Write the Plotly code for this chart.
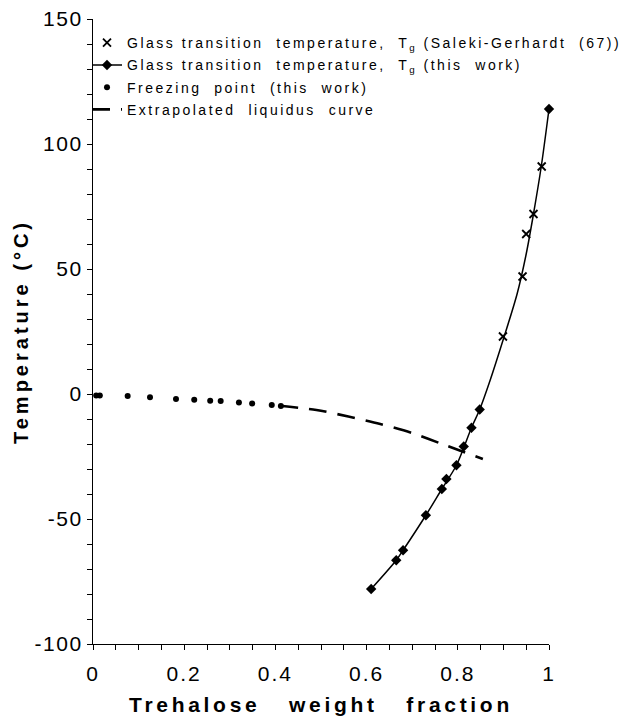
import plotly.graph_objects as go

# ---- data ----
saleki_x = [0.899, 0.942, 0.950, 0.966, 0.984]
saleki_T = [23, 47, 64, 72, 91]

tg_x = [0.61, 0.665, 0.68, 0.73, 0.765, 0.775, 0.797, 0.813, 0.83, 0.848, 1.0]
tg_T = [-78, -66.5, -62.5, -48.5, -38, -34, -28.5, -21, -13.5, -6.2, 114]

# fitted Tg curve as drawn
curve_x = [0.61, 0.665, 0.68, 0.73, 0.765, 0.797, 0.83, 0.848, 0.87, 0.90, 0.93, 0.95, 0.965, 0.983, 1.0]
curve_T = [-78, -66.5, -62.5, -48.5, -38, -28.5, -13.5, -6.2, 5, 22, 40, 56, 71, 91, 114]

fp_x = [0.007, 0.015, 0.076, 0.125, 0.182, 0.222, 0.257, 0.280, 0.320, 0.349, 0.392, 0.412]
fp_T = [-0.6, -0.6, -0.8, -1.3, -2.0, -2.3, -2.7, -2.8, -3.4, -3.8, -4.4, -4.8]

liq_x = [0.41, 0.49, 0.56, 0.63, 0.70, 0.77, 0.855]
liq_T = [-4.7, -6.4, -9.0, -12.0, -15.6, -20.3, -26.0]

x_tickvals = [0, 0.2, 0.4, 0.6, 0.8, 1]
x_ticktext = ["0", "0.2", "0.4", "0.6", "0.8", "1"]
y_tickvals = [-100, -50, 0, 50, 100, 150]
y_ticktext = ["-100", "-50", "0", "50", "100", "150"]

names = [
    "Glass transition  temperature,  T<sub>g</sub> (Saleki-Gerhardt  (67))",
    "Glass transition  temperature,  T<sub>g</sub> (this  work)",
    "Freezing  point  (this  work)",
    "Extrapolated  liquidus  curve",
]
x_title = "Trehalose   weight   fraction"
y_title = "Temperature (°C)"


def spaced(text, px):
    return '<span style="letter-spacing:%spx">%s</span>' % (px, text)


FONT = "Liberation Sans, Arial, Helvetica, sans-serif"
BLACK = "#000000"
LEG_SP = 2.5

fig = go.Figure()

fig.add_trace(go.Scatter(
    x=saleki_x, y=saleki_T, mode="markers", name=spaced(names[0], LEG_SP), legendgroup="a",
    cliponaxis=False,
    marker=dict(symbol="x-thin", size=8, line=dict(width=1.8, color=BLACK), color=BLACK),
))
# legend-only entry for Tg (this work): line with diamond marker
fig.add_trace(go.Scatter(
    x=[None], y=[None], mode="lines+markers", name=spaced(names[1], LEG_SP), legendgroup="b",
    line=dict(color=BLACK, width=1.5),
    marker=dict(symbol="diamond", size=8, color=BLACK),
))
fig.add_trace(go.Scatter(
    x=fp_x, y=fp_T, mode="markers", name=spaced(names[2], LEG_SP), legendgroup="c",
    cliponaxis=False,
    marker=dict(symbol="circle", size=6, color=BLACK),
))
fig.add_trace(go.Scatter(
    x=liq_x, y=liq_T, mode="lines", name=spaced(names[3], LEG_SP), legendgroup="d",
    line=dict(color=BLACK, width=2.6, dash="18px,11px", shape="spline", smoothing=0.8),
))
fig.add_trace(go.Scatter(
    x=curve_x, y=curve_T, mode="lines", showlegend=False, legendgroup="b",
    cliponaxis=False,
    line=dict(color=BLACK, width=1.5, shape="spline", smoothing=0.8),
))
fig.add_trace(go.Scatter(
    x=tg_x, y=tg_T, mode="markers", showlegend=False, legendgroup="b",
    cliponaxis=False,
    marker=dict(symbol="diamond", size=8, color=BLACK),
))

fig.update_layout(
    width=619, height=713,
    margin=dict(l=85, r=78, t=11, b=77),
    paper_bgcolor="white", plot_bgcolor="white",
    font=dict(family=FONT, color=BLACK, size=17),
    showlegend=True,
    legend=dict(
        x=-0.004, y=0.987, xanchor="left", yanchor="top",
        bgcolor="rgba(0,0,0,0)", font=dict(size=14, family=FONT, color=BLACK),
        traceorder="grouped", tracegroupgap=1, itemwidth=30,
    ),
    xaxis=dict(
        range=[0, 1], showgrid=False, zeroline=False, automargin=False,
        showline=True, linecolor=BLACK, linewidth=1.3,
        tickmode="array", tickvals=x_tickvals, ticktext=[spaced(t, 2) for t in x_ticktext],
        ticks="outside", ticklen=5, tickwidth=1.2, tickcolor=BLACK,
        ticklabelstandoff=6, ticklabeloverflow="allow",
        minor=dict(dtick=0.05, tick0=0, ticks="outside", ticklen=5, tickwidth=1.2, tickcolor=BLACK),
        tickfont=dict(size=21, family=FONT),
        title=dict(text=spaced("<b>" + x_title + "</b>", 3.7), font=dict(size=21, family=FONT), standoff=12),
    ),
    yaxis=dict(
        range=[-100, 150], showgrid=False, zeroline=False, automargin=False,
        showline=True, linecolor=BLACK, linewidth=1.3,
        tickmode="array", tickvals=y_tickvals, ticktext=[spaced(t, 1.5) for t in y_ticktext],
        ticks="outside", ticklen=5, tickwidth=1.2, tickcolor=BLACK,
        ticklabeloverflow="allow",
        minor=dict(dtick=10, tick0=0, ticks="outside", ticklen=5, tickwidth=1.2, tickcolor=BLACK),
        tickfont=dict(size=21, family=FONT),
        title=dict(text=spaced("<b>" + y_title + "</b>", 4), font=dict(size=20, family=FONT), standoff=0),
    ),
)

fig.write_html("out.html")
